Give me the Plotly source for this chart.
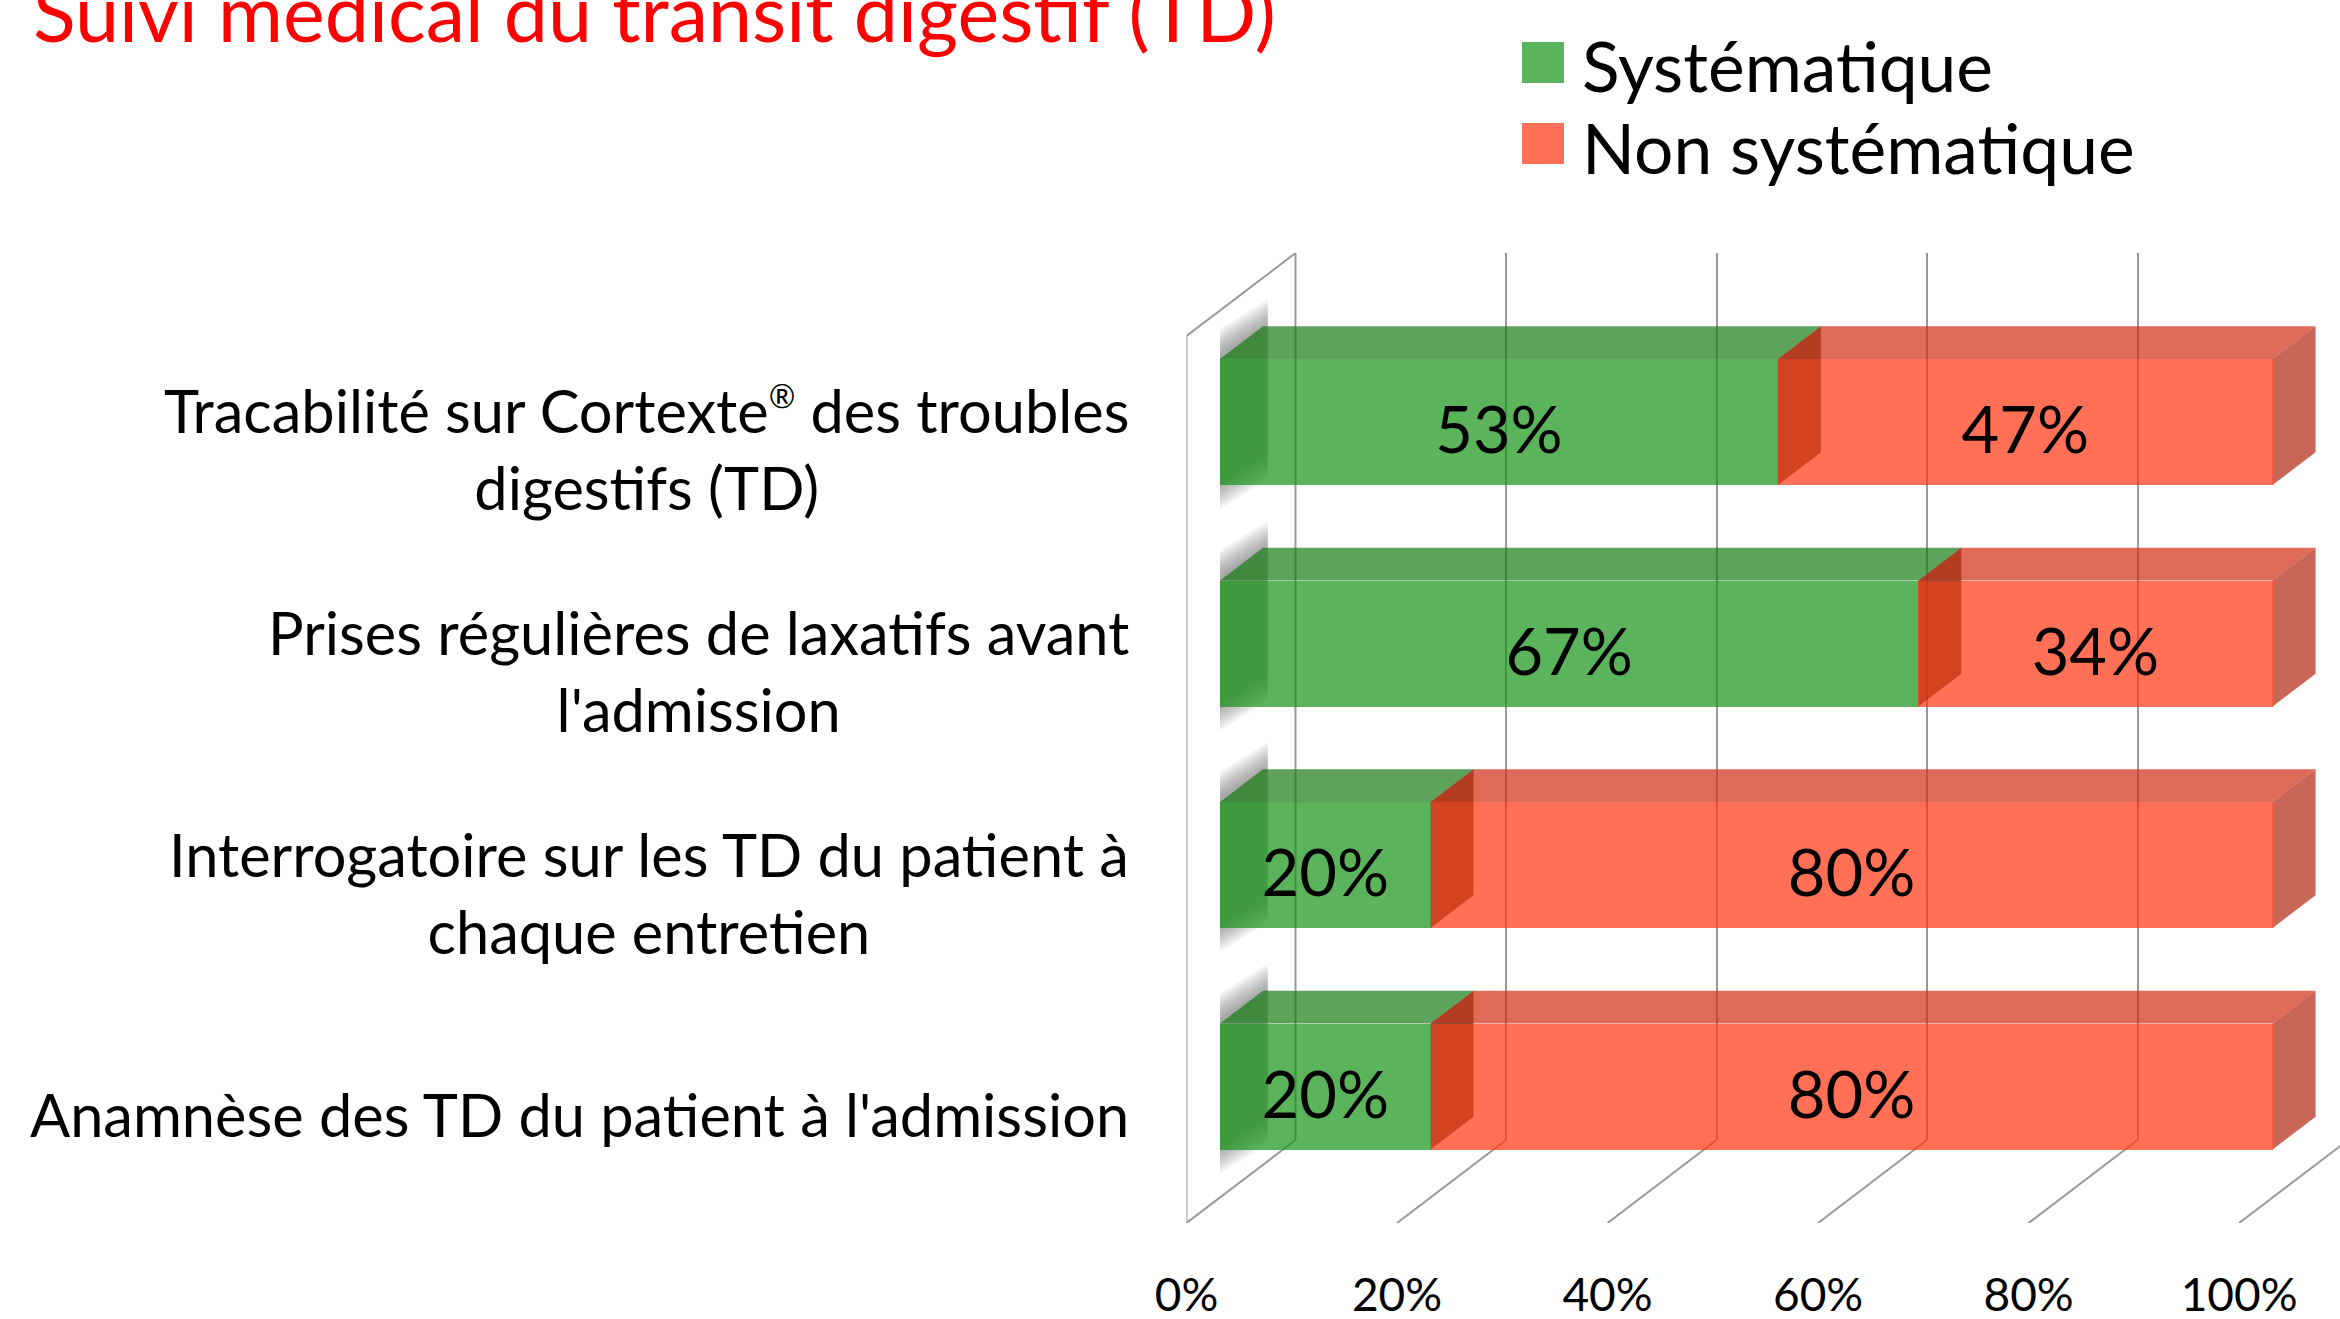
import plotly.graph_objects as go

# ---- data ----
categories = ['Tracabilité sur Cortexte<sup><span style="font-size:32px">®</span></sup> des troubles<br>digestifs (TD)',
              "Prises régulières de laxatifs avant<br>l'admission",
              "Interrogatoire sur les TD du patient à<br>chaque entretien",
              "Anamnèse des TD du patient à l'admission"]
series_names = ["Systématique", "Non systématique"]
systematique = [53, 67, 20, 20]
non_systematique = [47, 34, 80, 80]
x_ticks = [0, 20, 40, 60, 80, 100]
title_text = "Suivi médical du transit digestif (TD)"

# ---- layout constants (pixels of the 2340x1319 page) ----
W, H = 2340, 1319
FONT = "Lato"
PX_PER_PCT = 10.526
FRONT_X0, FRONT_BOTTOM = 1186.5, 1223
WALL_DX, WALL_DY = 109, 83
WALL_TOP_BACK = 253
BAR_X0 = 1220
BAR_STEP = 221.5
BAR_H = 126
BAR_TOP_CENTER = 422
BAR_DX, BAR_DY = 43, 32.7
GRID = "#999999"

def px(x): return x / W
def py(y): return 1 - y / H

y_pos = list(range(len(categories)))
ytop_px = BAR_TOP_CENTER - 0.8 * BAR_STEP
ybot_px = BAR_TOP_CENTER + 3.4 * BAR_STEP
ddx = BAR_DX / PX_PER_PCT
ddy = BAR_DY / BAR_STEP
hw = BAR_H / BAR_STEP / 2

fig = go.Figure()

# --- wall and floor lines, on the front plane axes
wdx = WALL_DX / PX_PER_PCT
wall_x, wall_y = [0, 0, wdx, wdx, None], [0, 1223 - 336, 1223 - WALL_TOP_BACK, WALL_DY, None]
for t in x_ticks:
    wall_x += [t, t + wdx, None]
    wall_y += [0, WALL_DY, None]
fig.add_trace(go.Scatter(x=wall_x, y=wall_y, mode="lines", line=dict(color=GRID, width=2),
                         xaxis="x", yaxis="y", hoverinfo="skip", showlegend=False))
# back plane axes only carry the gridlines
fig.add_trace(go.Scatter(x=[0], y=[0], mode="markers", marker=dict(opacity=0), xaxis="x2", yaxis="y2",
                         hoverinfo="skip", showlegend=False))

def poly(points):
    xs, ys = [], []
    for p in points:
        for a, b in p + [p[0]]:
            xs.append(a); ys.append(b)
        xs.append(None); ys.append(None)
    return xs, ys

def face(points, color):
    xs, ys = poly(points)
    fig.add_trace(go.Scatter(x=xs, y=ys, mode="lines", line=dict(width=0), fill="toself", fillcolor=color,
                             xaxis="x3", yaxis="y3", hoverinfo="skip", showlegend=False))

totals = [a + b for a, b in zip(systematique, non_systematique)]
split = [100 * a / t for a, t in zip(systematique, totals)]

# soft shadow behind the left end of every bar
for e in (27, 24, 21, 18, 15, 12, 9, 6, 3):
    ey = e / BAR_STEP
    face([[(-0.45, y + hw + ey), (ddx + 0.45, y + hw - ddy + ey), (ddx + 0.45, y - hw - ddy - ey), (-0.45, y - hw - ey)]
          for y in y_pos], "rgba(90,90,90,0.07)")
# inner end faces
face([[(0, y + hw), (ddx, y + hw - ddy), (ddx, y - hw - ddy), (0, y - hw)] for y in y_pos], "rgba(150,165,150,0.6)")
face([[(s, y + hw), (s + ddx, y + hw - ddy), (s + ddx, y - hw - ddy), (s, y - hw)] for s, y in zip(split, y_pos)],
     "rgba(45,35,0,0.7)")
# top faces
face([[(0, y - hw), (s, y - hw), (s + ddx, y - hw - ddy), (ddx, y - hw - ddy)] for s, y in zip(split, y_pos)],
     "rgba(24,124,22,0.7)")
face([[(s, y - hw), (100, y - hw), (100 + ddx, y - hw - ddy), (s + ddx, y - hw - ddy)] for s, y in zip(split, y_pos)],
     "rgba(209,44,19,0.7)")
# right end face
face([[(100, y + hw), (100 + ddx, y + hw - ddy), (100 + ddx, y - hw - ddy), (100, y - hw)] for y in y_pos],
     "rgba(177,38,16,0.7)")

# --- front faces: the stacked, normalised bars
for name, vals, col in zip(series_names, (systematique, non_systematique),
                           ("rgba(21,148,22,0.7)", "rgba(255,51,16,0.7)")):
    fig.add_trace(go.Bar(name=name, y=y_pos, x=vals, orientation="h", width=BAR_H / BAR_STEP,
                         marker=dict(color=col, line=dict(width=0)),
                         xaxis="x4", yaxis="y4", showlegend=False, hoverinfo="name+x"))

# value labels, centred on each segment and a little under the bar's middle
LABEL = dict(family=FONT, size=65, color="black")
label_dy = 15 / BAR_STEP
fig.add_trace(go.Scatter(x=[s / 2 for s in split], y=[y + label_dy for y in y_pos], mode="text",
                         text=[f"{v}%" for v in systematique], textposition="middle center", textfont=LABEL,
                         xaxis="x4", yaxis="y4", hoverinfo="skip", showlegend=False))
fig.add_trace(go.Scatter(x=[(s + 100) / 2 for s in split], y=[y + label_dy for y in y_pos], mode="text",
                         text=[f"{v}%" for v in non_systematique], textposition="middle center", textfont=LABEL,
                         xaxis="x4", yaxis="y4", hoverinfo="skip", showlegend=False))

annotations = []
for y, c in zip(y_pos, categories):
    annotations.append(dict(text=c, x=px(1131), xref="paper", y=y, yref="y3", xanchor="right", yanchor="middle",
                            align="center", showarrow=False, yshift=-27,
                            font=dict(family=FONT, size=59.5, color="black")))
# legend
shapes = []
for name, col, top in zip(series_names, ("#5BB45C", "#FF7058"), (42, 123)):
    shapes.append(dict(type="rect", xref="paper", yref="paper", x0=px(1522), x1=px(1564), y0=py(top), y1=py(top + 41),
                       fillcolor=col, line=dict(width=0)))
    annotations.append(dict(text=name, x=px(1580), xref="paper", y=py(top + 23.5), yref="paper", xanchor="left",
                            yanchor="middle", showarrow=False, font=dict(family=FONT, size=69.5, color="black")))

hidden = dict(visible=False, fixedrange=True, automargin=False)
x3_range = [0, (W - BAR_X0) / PX_PER_PCT]
y3_range = [3.4, -0.8]
fig.update_layout(
    width=W, height=H, margin=dict(l=0, r=0, t=0, b=0), autosize=False,
    paper_bgcolor="white", plot_bgcolor="rgba(0,0,0,0)", barmode="stack", barnorm="percent",
    title=dict(text=title_text, x=px(33), xanchor="left", xref="paper", y=py(42), yref="paper", yanchor="bottom",
               pad=dict(b=0), font=dict(family=FONT, size=79, color="#FF0000")),
    shapes=shapes, annotations=annotations, showlegend=False,
    xaxis=dict(domain=[px(FRONT_X0), 1], range=[0, (W - FRONT_X0) / PX_PER_PCT], anchor="y", tickmode="array",
               tickvals=x_ticks, ticktext=[f"{t}%" for t in x_ticks], showgrid=False, zeroline=False, showline=False,
               ticks="", ticklabelstandoff=41, tickfont=dict(family=FONT, size=46, color="black"), fixedrange=True,
               automargin=False),
    yaxis=dict(domain=[py(FRONT_BOTTOM), py(WALL_TOP_BACK)], range=[0, FRONT_BOTTOM - WALL_TOP_BACK], anchor="x", **hidden),
    xaxis2=dict(domain=[px(FRONT_X0 + WALL_DX), 1], range=[0, (W - FRONT_X0 - WALL_DX) / PX_PER_PCT], anchor="y2",
                tickmode="array", tickvals=x_ticks[:-1], showgrid=True, gridcolor=GRID, gridwidth=2, zeroline=False,
                showticklabels=False, ticks="", fixedrange=True, automargin=False),
    yaxis2=dict(domain=[py(FRONT_BOTTOM - WALL_DY), py(WALL_TOP_BACK)], range=[0, 1], anchor="x2",
                showgrid=False, zeroline=False, showticklabels=False, ticks="", fixedrange=True, automargin=False),
    xaxis3=dict(domain=[px(BAR_X0), 1], range=x3_range, anchor="y3", **hidden),
    yaxis3=dict(domain=[py(ybot_px), py(ytop_px)], range=y3_range, anchor="x3", **hidden),
    xaxis4=dict(domain=[px(BAR_X0), 1], range=x3_range, anchor="y4", **hidden),
    yaxis4=dict(domain=[py(ybot_px), py(ytop_px)], range=y3_range, anchor="x4", **hidden),
)
fig.write_html("out.html", config=dict(displayModeBar=False),
               post_script="document.body.style.margin='0';document.body.style.overflow='hidden';")
